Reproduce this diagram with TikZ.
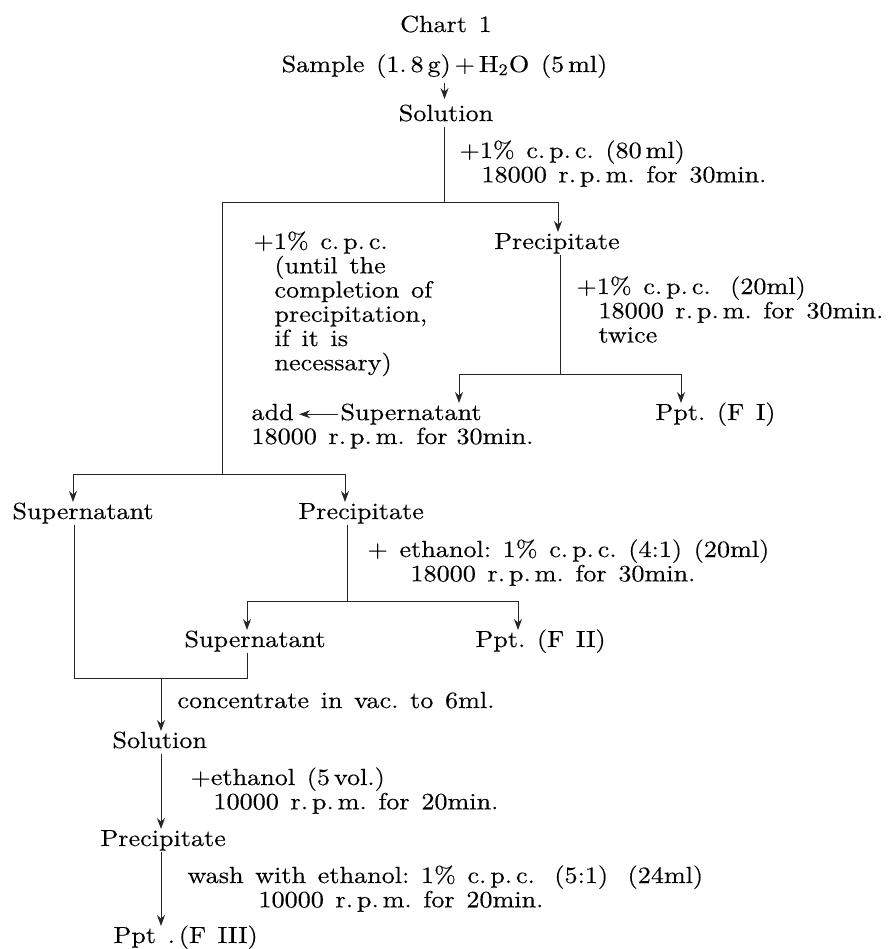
\documentclass[tikz,border=0pt]{standalone}
\usepackage{fontspec}
\setmainfont{lmroman10-regular}[Extension=.otf, FakeStretch=1.12, FakeBold=0.3]
\usetikzlibrary{arrows.meta}

\tikzset{
  every node/.style={font=\fontsize{9.34}{9.7}\selectfont},
  lbl/.style={inner sep=0pt, anchor=base west, text height=6.6pt, text depth=2pt},
  ctr/.style={lbl, anchor=base},
  blk/.style={inner sep=0pt, anchor=base west, align=left, text width=#1},
  line/.style={line width=0.4pt, draw=black!85},
  arrow/.style={line, -{Stealth[length=4.4pt,width=3.2pt]}}
}

\begin{document}
\begin{tikzpicture}[x=0.4pt, y=-0.4pt]
\useasboundingbox (0,0) rectangle (893,949);

% first step
\node[ctr] (title) at (446,32) {Chart\enspace 1};
\node[ctr] (sample) at (444.5,72) {Sample\enspace(1.\,8\,g)\,+\,H\textsubscript{2}O\enspace(5\,ml)};
\node[ctr] (sol1) at (446,121) {Solution};
\node[blk=140pt] (cpc1) at (459,158) {+1\%\enspace c.\,p.\,c.\enspace(80\,ml)\\\hspace*{8.8pt}18000\enspace r.\,p.\,m.\enspace for\enspace 30min.};

% second step
\node[ctr] (pre1) at (557,249) {Precipitate};
\node[blk=80pt] (cpc2) at (253,249) {+1\%\enspace c.\,p.\,c.\\\hspace*{8.4pt}(until\enspace the\\\hspace*{8.4pt}completion\enspace of\\\hspace*{8.4pt}precipitation,\\\hspace*{8.4pt}if\enspace it\enspace is\\\hspace*{8.4pt}necessary)};
\node[blk=140pt] (cpc3) at (576,294) {+1\%\enspace c.\,p.\,c.\enspace\ (20ml)\\\hspace*{8.8pt}18000\enspace r.\,p.\,m.\enspace for\enspace 30min.\\\hspace*{8.8pt}twice};

\node[lbl] (add) at (251,420) {add};
\node[lbl] (sup1) at (340,420) {Supernatant};
\node[lbl] (spin1) at (251,444) {18000\enspace r.\,p.\,m.\enspace for 30min.};
\node[lbl] (ppt1) at (655,420) {Ppt.\enspace(F\enspace I)};

% third step
\node[lbl] (sup2) at (12,519) {Supernatant};
\node[lbl] (pre2) at (298,519) {Precipitate};
\node[blk=200pt] (eth1) at (367,557) {+\enspace ethanol:\enspace 1\%\enspace c.\,p.\,c.\enspace(4:1)\enspace(20ml)\\\hspace*{17.2pt}18000\enspace r.\,p.\,m.\enspace for\enspace 30min.};
\node[lbl] (sup3) at (184,647) {Supernatant};
\node[lbl] (ppt2) at (475,647) {Ppt.\enspace(F\enspace II)};

% last steps
\node[lbl] (conc) at (177,708) {concentrate\enspace in\enspace vac.\enspace to\enspace 6ml.};
\node[lbl] (sol2) at (112,748) {Solution};
\node[blk=140pt] (eth2) at (190,785) {+ethanol\enspace(5\,vol.)\\\hspace*{9.2pt}10000\enspace r.\,p.\,m.\enspace for\enspace 20min.};
\node[lbl] (pre3) at (100,846) {Precipitate};
\node[blk=220pt] (wash) at (187,883) {wash\enspace with\enspace ethanol:\enspace 1\%\enspace c.\,p.\,c.\enspace\ (5:1)\enspace\ (24ml)\\\hspace*{28.4pt}10000\enspace r.\,p.\,m.\enspace for\enspace 20min.};
\node[lbl] (ppt3) at (113,943) {Ppt\enspace.\,(F\enspace III)};

% junctions
\coordinate (j1) at (444,202);
\coordinate (b1l) at (222,202);
\coordinate (b1r) at (558,202);
\coordinate (j2) at (560,374);
\coordinate (b3l) at (459,374);
\coordinate (b3r) at (681,374);
\coordinate (b2l) at (73,474);
\coordinate (b2r) at (345,474);
\coordinate (j3) at (347,601);
\coordinate (b4l) at (247,601);
\coordinate (b4r) at (518,601);
\coordinate (j4) at (74,678);
\coordinate (j5) at (247,678);
\coordinate (j6) at (161,678);

\draw[arrow, shorten <=2pt, shorten >=2pt] (sample.south) -- (sample.south |- sol1.north);
\draw[line] (j1 |- sol1.south) -- (j1);
\draw[line] (b1l) -- (b1r);
\draw[arrow] (b1r) -- (b1r |- pre1.north);
\draw[line] (b1l) -- (b1l |- b2l);

\draw[line] (j2 |- pre1.south) -- (j2);
\draw[line] (b3l) -- (b3r);
\draw[arrow] (b3l) -- (b3l |- sup1.north);
\draw[arrow] (b3r) -- (b3r |- ppt1.north);
\draw[arrow, shorten <=1pt, shorten >=2pt] (sup1.west) -- (add.east);

\draw[line] (b2l) -- (b2r);
\draw[arrow] (b2l) -- (b2l |- sup2.north);
\draw[arrow] (b2r) -- (b2r |- pre2.north);

\draw[line] (j3 |- pre2.south) -- (j3);
\draw[line] (b4l) -- (b4r);
\draw[arrow] (b4l) -- (b4l |- sup3.north);
\draw[arrow] (b4r) -- (b4r |- ppt2.north);
\draw[line] (j4 |- sup2.south) -- (j4) -- (j5) -- (j5 |- sup3.south);

\draw[arrow] (j6) -- (j6 |- sol2.north);
\draw[arrow] (j6 |- sol2.south) -- (j6 |- pre3.north);
\draw[arrow] (j6 |- pre3.south) -- (j6 |- ppt3.north);
\end{tikzpicture}
\end{document}
